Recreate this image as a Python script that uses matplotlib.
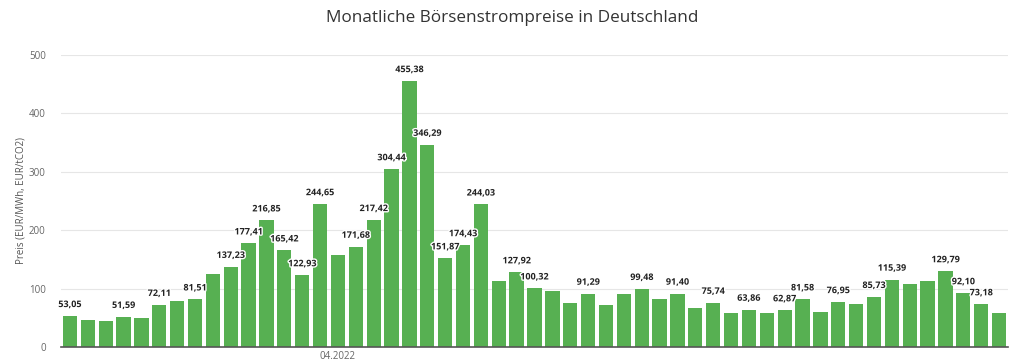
import matplotlib.pyplot as plt
import matplotlib.patheffects as pe

# monthly prices 01.2021 - 05.2025 (EUR/MWh), unlabeled bars
months = [f"{m:02d}.{y}" for y in range(2021, 2026) for m in range(1, 13)][:53]
prices = [
    53.05, 47.0, 45.0, 51.59, 50.0, 72.11, 78.0, 81.51, 125.0, 137.23,
    177.41, 216.85, 165.42, 122.93, 244.65, 158.0, 171.68, 217.42, 304.44, 455.38,
    346.29, 151.87, 174.43, 244.03, 113.0, 127.92, 100.32, 96.0, 75.0, 91.29,
    72.0, 90.0, 99.48, 83.0, 91.40, 66.0, 75.74, 59.0, 63.86, 58.0,
    62.87, 81.58, 60.5, 76.95, 74.0, 85.73, 115.39, 108.5, 113.5, 129.79,
    92.10, 73.18, 59.0,
]
# bars that carry a visible value label
labeled = [0, 3, 5, 7, 9, 10, 11, 12, 13, 14, 16, 17, 18, 19, 20, 21, 22, 23,
           25, 26, 29, 32, 34, 36, 38, 40, 41, 43, 45, 46, 49, 50, 51]
shown_tick = "04.2022"

plt.rcParams["font.family"] = ["Open Sans", "DejaVu Sans"]

fig = plt.figure(figsize=(10.24, 3.63), dpi=100)
ax = fig.add_axes([61 / 1024, 16 / 363, 947 / 1024, 292 / 363])

x = list(range(len(prices)))
ax.bar(x, prices, width=0.8, color="#57b052", zorder=3)

for i in labeled:
    ax.annotate(
        f"{prices[i]:.2f}".replace(".", ","),
        (i, prices[i]),
        xytext=(0, 5),
        textcoords="offset points",
        ha="center",
        va="bottom",
        fontsize=6.5,
        fontweight="bold",
        color="#222222",
        zorder=5,
        path_effects=[pe.withStroke(linewidth=2, foreground="white")],
    )

ax.set_xlim(-0.5, 52.5)
ax.set_ylim(0, 500)
ax.set_yticks([0, 100, 200, 300, 400, 500])
ax.tick_params(axis="y", length=0, labelsize=7, labelcolor="#666666", pad=11)
ax.set_xticks([months.index(shown_tick)])
ax.set_xticklabels([shown_tick])
ax.tick_params(axis="x", length=0, labelsize=7, labelcolor="#666666", pad=3)

ax.grid(axis="y", color="#e6e6e6", linewidth=0.8, zorder=0)
for side in ["top", "right", "left"]:
    ax.spines[side].set_visible(False)
ax.spines["bottom"].set_color("#555555")
ax.spines["bottom"].set_linewidth(1.2)
ax.spines["bottom"].set_zorder(4)

ax.set_ylabel("Preis (EUR/MWh, EUR/tCO2)", fontsize=7, color="#555555")
ax.yaxis.set_label_coords(-0.036, 0.5)
fig.text(0.5, 0.95, "Monatliche Börsenstrompreise in Deutschland",
         ha="center", va="center", fontsize=12.3, color="#333333")

fig.savefig("out.png", dpi=100)
